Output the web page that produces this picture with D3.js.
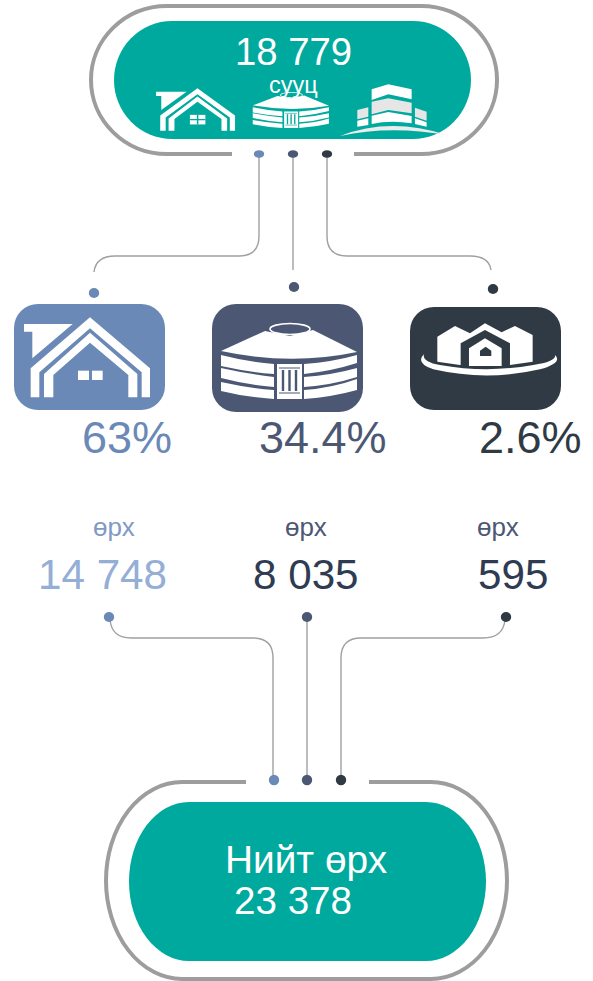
<!DOCTYPE html>
<html>
<head>
<meta charset="utf-8">
<script src="https://cdn.jsdelivr.net/npm/d3@7/dist/d3.min.js"></script>
<style>
html, body { margin: 0; padding: 0; background: #fff; }
text { font-family: "Liberation Sans", Arial, sans-serif; }
</style>
</head>
<body>
<div class="chart"></div>
<script>
// values
var categories = ["house", "ger", "apartment"];
var shareLabels = ["63%", "34.4%", "2.6%"];
var householdLabels = ["14 748", "8 035", "595"];
var unitLabel = "өрх";
var totalDwellings = "18 779";
var dwellingLabel = "сууц";
var totalLabel = "Нийт өрх";
var totalHouseholds = "23 378";

var svgWidth = 593;
var svgHeight = 981;

var svg = d3.select(".chart").append("svg")
    .attr("width", svgWidth).attr("height", svgHeight)
    .style("display", "block");

var color = d3.scaleOrdinal().domain(categories).range(["#6a89b6", "#4c5873", "#303a45"]);
var countColor = d3.scaleOrdinal().domain(categories).range(["#94aed6", "#2f3b52", "#2f3b52"]);
var unitColor = d3.scaleOrdinal().domain(categories).range(["#7f9ac4", "#4c5873", "#4c5873"]);
var teal = "#00a99d";
var gray = "#9d9d9f";
var thin = "#a0a0a2";

//pill frames
function pill(sel, x0, y0, x1, y1, rx) {
    return sel.append("rect").attr("x", x0).attr("y", y0)
        .attr("width", x1 - x0).attr("height", y1 - y0)
        .attr("rx", rx).attr("ry", (y1 - y0) / 2);
}

pill(svg, 91, 6, 497, 154, 76).attr("fill", "none").attr("stroke", gray).attr("stroke-width", 4);
svg.append("rect").attr("x", 232).attr("y", 148).attr("width", 122).attr("height", 12).attr("fill", "#fff");
pill(svg, 114, 21, 471, 139, 58).attr("fill", teal);

pill(svg, 106, 782, 507, 979, 76).attr("fill", "none").attr("stroke", gray).attr("stroke-width", 4);
svg.append("rect").attr("x", 246).attr("y", 776).attr("width", 123).attr("height", 12).attr("fill", "#fff");
pill(svg, 129, 802, 486, 961, 60).attr("fill", teal);

//connector lines
var topLines = [
    "M259,154V236Q259,256 239,256H115Q96,256 94,272",
    "M293,154V270",
    "M327,154V236Q327,256 347,256H470Q489,256 491,270"
];
var bottomLines = [
    "M110,620Q112,638 131,638H253Q273,638 273,658V780",
    "M307,617V780",
    "M505,620Q503,638 483,638H361Q341,638 341,658V780"
];
svg.selectAll(".link").data(topLines.concat(bottomLines)).enter().append("path")
    .attr("class", "link").attr("d", function(d){ return d; })
    .attr("fill", "none").attr("stroke", thin).attr("stroke-width", 1.4);

//dots
var dotsX = [[259, 293, 327], [94, 294, 493], [109, 307, 506], [274, 307, 341]];
var dotsY = [[154, 154, 154], [293, 287, 289], [617, 617, 617], [780, 780, 780]];
var dotsRy = [3.8, 5, 5, 5.2];
dotsX.forEach(function(row, r){
    svg.selectAll(".dot" + r).data(categories).enter().append("ellipse")
        .attr("class", "dot" + r)
        .attr("cx", function(d, i){ return row[i]; })
        .attr("cy", function(d, i){ return dotsY[r][i]; })
        .attr("rx", 5.2)
        .attr("ry", dotsRy[r])
        .attr("fill", function(d){ return color(d); });
});

//icon tiles
var tileX = [14, 212, 410];
var tileY = [304, 304, 307];
var tileH = [106, 108, 103];
svg.selectAll(".tile").data(categories).enter().append("rect")
    .attr("class", "tile")
    .attr("x", function(d, i){ return tileX[i]; })
    .attr("y", function(d, i){ return tileY[i]; })
    .attr("width", 151)
    .attr("height", function(d, i){ return tileH[i]; })
    .attr("rx", 24).attr("ry", 24)
    .attr("fill", function(d){ return color(d); });

// house glyph, drawn in 3x units of the tile
function drawHouse(tx, ty, kx, ky, fourPanes, bg) {
    var g = svg.append("g").attr("transform", `translate(${tx},${ty}) scale(${kx},${ky})`).attr("fill", "#fff");
    g.append("path").attr("d", "M72,132H218L97,235V155H72Z");
    g.append("path").attr("d", "M92,352V265L270,112L450,265V352H425V277L270,145L118,277V352Z");
    g.append("path").attr("d", "M132,352V282L270,158L412,282V352H385V285L270,188L160,285V352Z");
    if (fourPanes) {
        g.append("rect").attr("x", 234).attr("y", 262).attr("width", 74).attr("height", 54);
        g.append("path").attr("d", "M271,262V316M234,289H308").attr("stroke", bg).attr("stroke-width", 7);
    } else {
        g.append("rect").attr("x", 234).attr("y", 272).attr("width", 33).attr("height", 28);
        g.append("rect").attr("x", 276).attr("y", 272).attr("width", 32).attr("height", 28);
    }
}
drawHouse(0, 280, 1 / 3, 1 / 3, false, color("house"));
drawHouse(141, 68.5, 0.209, 0.177, true, teal);

// ger glyph, drawn in page units of the tile
function drawGer(tx, ty, kx, ky, bg) {
    var g = svg.append("g").attr("transform", `translate(${tx},${ty}) scale(${kx},${ky})`).attr("fill", "#fff");
    g.append("path").attr("d", "M221,351L265,331L290,336L313,330L357,352Q290,366 221,351Z");
    g.append("ellipse").attr("cx", 290).attr("cy", 329).attr("rx", 20).attr("ry", 5.5)
        .attr("fill", bg).attr("stroke", "#fff").attr("stroke-width", 1.6);
    g.append("path").attr("d", "M221,355Q248,362 274,364V374Q248,372 221,366Z");
    g.append("path").attr("d", "M221,368Q248,374 274,377V387Q248,385 221,378Z");
    g.append("path").attr("d", "M221,382Q248,388 274,390V399Q245,397 221,391Z");
    g.append("path").attr("d", "M304,364Q332,362 357,355V363Q332,371 304,374Z");
    g.append("path").attr("d", "M304,377Q332,375 357,368V377Q332,385 304,387Z");
    g.append("path").attr("d", "M304,390Q332,388 357,379V390Q332,397 304,399Z");
    g.append("rect").attr("x", 277).attr("y", 364).attr("width", 25).attr("height", 35);
    g.append("path").attr("d", "M283,370V391M289.5,370V391M296,370V391")
        .attr("stroke", bg).attr("stroke-width", 2.4).attr("fill", "none");
    g.append("path").attr("d", "M279,368H300M279,393H300")
        .attr("stroke", bg).attr("stroke-width", 1.2).attr("fill", "none");
}
drawGer(0, 0, 1, 1, color("ger"));
drawGer(129, -59.6, 0.56, 0.47, teal);

// apartment tile glyph, 3x units
var g3 = svg.append("g").attr("transform", "translate(300,280) scale(0.3333)");
g3.append("path").attr("fill", "#fff")
    .attr("d", "M412,170L465,138L510,160L555,130L605,157L645,138L698,165V245L630,255H480L412,245Z");
g3.append("path").attr("fill", color("apartment")).attr("d", "M482,190L555,150L630,190V258H482Z");
g3.append("path").attr("fill", "#fff").attr("d", "M507,205L555,175L605,205V258H507Z");
g3.append("path").attr("fill", color("apartment")).attr("d", "M540,212L557,200L574,212V228H540Z");
g3.append("path").attr("fill", "#fff")
    .attr("d", "M372,222Q345,250 400,268Q560,305 720,268Q790,248 765,225Q770,245 700,255Q560,280 420,255Q365,245 372,222Z");

// buildings in the top pill, 3x units
var b = svg.append("g").attr("transform", "translate(80,0) scale(0.3333)").attr("fill", "#fff");
b.append("path").attr("d", "M875,268L925,253L995,268V298L925,283L875,300Z");
b.append("path").attr("fill", "#e6e6e6").attr("d", "M875,305L925,295L995,308V340L925,330L875,343Z");
b.append("path").attr("d", "M875,347L925,336L995,348V370Q930,360 875,372Z");
b.append("path").attr("fill", "#e6e6e6").attr("d", "M832,330L865,322V350L832,358Z");
b.append("path").attr("d", "M832,362L865,355V375L832,380Z");
b.append("path").attr("fill", "#e6e6e6").attr("d", "M1005,323L1040,335V362L1005,350Z");
b.append("path").attr("d", "M1005,355L1040,367V380L1005,372Z");
b.append("path").attr("fill", "#ececec").attr("d", "M780,408Q930,350 1100,405Q930,375 780,408Z");

//texts
function label(x, y, size, fill, str) {
    return svg.append("text").attr("x", x).attr("y", y).attr("font-size", size)
        .attr("fill", fill).text(str);
}
label(235, 65, 38.3, "#fff", totalDwellings);
label(269, 93, 23.5, "#fff", dwellingLabel);
label(225, 873, 38.8, "#fff", totalLabel);
label(234, 914, 38.6, "#fff", totalHouseholds);

var shareX = [82, 259, 479];
svg.selectAll(".share").data(categories).enter().append("text")
    .attr("class", "share")
    .attr("x", function(d, i){ return shareX[i]; })
    .attr("y", 453).attr("font-size", 45)
    .attr("fill", function(d){ return color(d); })
    .text(function(d, i){ return shareLabels[i]; });

var unitX = [93, 285, 477];
svg.selectAll(".unit").data(categories).enter().append("text")
    .attr("class", "unit")
    .attr("x", function(d, i){ return unitX[i]; })
    .attr("y", 536).attr("font-size", 26)
    .attr("fill", function(d){ return unitColor(d); })
    .text(unitLabel);

var countX = [38, 253, 478];
svg.selectAll(".count").data(categories).enter().append("text")
    .attr("class", "count")
    .attr("x", function(d, i){ return countX[i]; })
    .attr("y", 589).attr("font-size", 42.2)
    .attr("fill", function(d){ return countColor(d); })
    .text(function(d, i){ return householdLabels[i]; });
</script>
</body>
</html>
